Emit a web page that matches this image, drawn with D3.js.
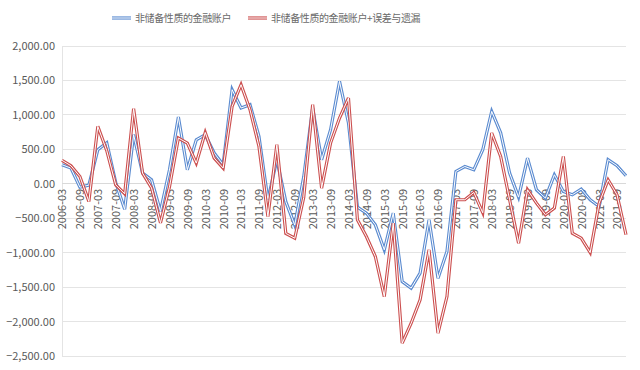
<!DOCTYPE html>
<html><head><meta charset="utf-8">
<script src="https://cdn.jsdelivr.net/npm/d3@7"></script>
<style>body{margin:0;background:#fff}svg{display:block}</style>
</head><body><svg id="c" width="640" height="370"></svg>
<script>
const quarters = [];
for (let y = 2006; y <= 2021; y++) for (const m of ["03","06","09","12"]) quarters.push(y + "-" + m);
const seriesNames = ["非储备性质的金融账户", "非储备性质的金融账户+误差与遗漏"];
const blueValues = [276,228,-50,-20,494,595,20,-370,712,155,58,-400,200,969,203,639,712,446,276,1366,1100,1148,687,-232,349,-260,-600,100,1100,349,785,1486,882,-340,-426,-596,-959,-426,-1419,-1515,-1297,-523,-1370,-983,179,251,203,494,1051,740,155,-194,373,-87,-208,131,-111,-160,-77,-232,-330,349,262,116];
const redValues = [340,262,106,-257,833,480,-15,-145,1090,155,-60,-567,-50,664,591,300,745,373,228,1123,1438,1075,542,-475,567,-720,-790,-200,1148,-63,591,955,1245,-523,-765,-1056,-1637,-571,-2314,-2024,-1685,-959,-2169,-1637,-232,-232,-126,-421,737,397,-232,-862,-87,-281,-450,-353,397,-717,-789,-998,-281,58,-160,-740];
const yTicks = [2000,1500,1000,500,0,-500,-1000,-1500,-2000,-2500];
const labelQuarters = quarters.filter((q,i)=>i%2===0);

const svg = d3.select("#c");
const font = "'Noto Sans CJK SC','Microsoft YaHei',sans-serif";
const x = d3.scalePoint().domain(quarters).range([62,626]).padding(0);
const y = d3.scaleLinear().domain([-2500,2000]).range([356,46]);

// gridlines
svg.append("g").selectAll("line").data(yTicks).join("line")
  .attr("x1",62).attr("x2",626).attr("y1",d=>y(d)).attr("y2",d=>y(d))
  .attr("stroke","#e4e4e4").attr("stroke-width",1).attr("shape-rendering","crispEdges");
svg.append("line").attr("x1",62).attr("x2",62).attr("y1",y(2000)).attr("y2",y(-2500))
  .attr("stroke","#e4e4e4").attr("shape-rendering","crispEdges");
svg.append("line").attr("x1",62).attr("x2",626).attr("y1",y(0)).attr("y2",y(0))
  .attr("stroke","#d9d9d9").attr("shape-rendering","crispEdges");

// y axis
const yAxis = d3.axisLeft(y).tickValues(yTicks).tickFormat(d3.format(",.2f")).tickSize(0).tickPadding(7);
const ga = svg.append("g").attr("transform","translate(62,0)").call(yAxis);
ga.select(".domain").remove();
ga.selectAll("text").attr("fill","#595959").style("font-family",font).style("font-size","11px");

// x axis labels
const xAxis = d3.axisBottom(x).tickValues(labelQuarters).tickSize(0).tickPadding(0);
const gx = svg.append("g").attr("transform",`translate(0,${y(0)})`).call(xAxis);
gx.select(".domain").remove();
gx.selectAll("text").attr("fill","#595959").style("font-family",font).style("font-size","11px")
  .attr("text-anchor","end").attr("transform","rotate(-90)").attr("x",-5).attr("y",0).attr("dy","0.35em");

// lines
const line = d3.line().x((d,i)=>x(quarters[i])).y(d=>y(d));
function dbl(vals,color){
  svg.append("path").datum(vals).attr("d",line).attr("fill","none").attr("stroke",color).attr("stroke-width",3.2).attr("stroke-linejoin","miter");
  svg.append("path").datum(vals).attr("d",line).attr("fill","none").attr("stroke","#fff").attr("stroke-width",1).attr("stroke-linejoin","miter");
}
dbl(blueValues,"#5b8bd0");
dbl(redValues,"#cc4f4f");

// legend
const legend = [{n:seriesNames[0],c:"#5b8bd0",x:112},{n:seriesNames[1],c:"#cc4f4f",x:248}];
const lg = svg.append("g");
legend.forEach(l=>{
  lg.append("line").attr("x1",l.x).attr("x2",l.x+19).attr("y1",18).attr("y2",18).attr("stroke",l.c).attr("stroke-width",3.2);
  lg.append("line").attr("x1",l.x).attr("x2",l.x+19).attr("y1",18).attr("y2",18).attr("stroke","#fff").attr("stroke-width",1);
  lg.append("text").attr("x",l.x+23).attr("y",18).attr("dy","0.35em").text(l.n)
    .attr("fill","#6a6a6a").style("font-family",font).style("font-size","10px").style("letter-spacing","-0.4px");
});
</script></body></html>
